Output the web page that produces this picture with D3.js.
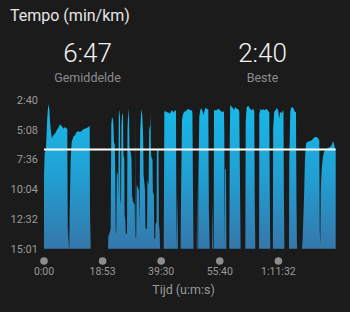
<!DOCTYPE html>
<html>
<head>
<meta charset="utf-8">
<script src="https://cdn.jsdelivr.net/npm/d3@7"></script>
<style>
body{margin:0;background:#1b1b1b;}
svg{display:block;font-family:Roboto,'Noto Sans',sans-serif;}
</style>
</head>
<body>
<div class="pace-chart-container"></div>
<script>
// samples: [afstand in meter, tempo in sec/km]
const paceSamples = [
  [0,533],[24,424],[68,399],[113,245],[147,181],[181,203],[205,269],[239,319],[273,352],
  [317,336],[375,328],[433,311],[488,299],[546,281],[570,286],[614,291],[659,303],[717,294],
  [775,303],[795,299],[809,782],[829,901],[843,787],[853,901],
  [863,901],[877,717],[911,452],[945,369],[1000,344],[1058,336],[1116,319],[1171,316],
  [1229,319],[1287,314],[1341,306],[1399,303],[1457,299],[1512,294],[1560,289],[1570,725],[1594,901],
  [2184,901],[2195,841],[2253,816],[2276,801],[2297,284],[2321,245],[2345,254],[2365,269],
  [2389,369],[2417,384],[2433,533],[2447,831],[2468,806],[2485,518],[2519,533],[2536,657],
  [2553,235],[2570,207],[2594,250],[2607,652],[2628,682],[2645,284],[2672,225],[2696,235],
  [2710,434],[2740,458],[2751,732],[2775,757],[2792,831],[2833,821],[2850,309],[2877,203],
  [2905,259],[2918,409],[2959,419],[2987,458],[3003,632],[3037,667],[3095,682],[3113,846],
  [3120,846],[3126,235],[3133,846],[3147,846],[3164,583],[3236,608],[3259,782],[3283,309],
  [3321,206],[3355,235],[3386,354],[3399,533],[3447,608],[3464,797],[3515,806],[3532,558],
  [3570,583],[3590,309],[3624,284],[3635,230],[3648,409],[3662,443],[3703,458],[3716,618],
  [3750,632],[3764,846],[3795,856],[3805,782],[3843,767],[3853,409],[3907,404],[3921,782],
  [3945,806],[3962,901],
  [4085,901],[4096,583],[4106,220],[4130,215],[4188,220],[4243,223],[4300,228],[4334,216],
  [4379,211],[4413,223],[4471,211],[4505,215],[4515,618],[4532,901],[4556,618],[4573,901],
  [4662,901],[4676,652],[4710,260],[4734,236],[4778,220],[4847,215],[4925,203],[4983,211],
  [5041,211],[5065,220],[5086,632],[5103,901],[5214,901],[5228,563],[5242,901],
  [5263,901],[5269,568],[5300,245],[5324,220],[5358,200],[5403,211],[5437,235],[5485,211],
  [5529,195],[5553,206],[5608,205],[5628,717],[5656,901],[5737,901],[5754,667],[5771,901],
  [5792,901],[5802,211],[5894,211],[5949,203],[6007,211],[6075,220],[6120,216],[6144,220],
  [6154,319],[6168,901],[6185,501],[6212,508],[6226,901],
  [6324,901],[6341,359],[6355,186],[6382,190],[6416,195],[6461,203],[6495,211],[6519,195],
  [6577,203],[6632,206],[6666,220],[6690,583],[6710,901],
  [6871,901],[6884,269],[6918,195],[6973,190],[7031,203],[7089,211],[7144,203],[7178,220],
  [7192,651],[7212,901],
  [7341,901],[7348,228],[7396,203],[7440,211],[7485,206],[7543,211],[7601,203],[7655,216],
  [7689,220],[7706,618],[7723,901],
  [7811,901],[7822,299],[7856,220],[7904,211],[7948,200],[7993,211],[8027,253],[8061,220],
  [8119,225],[8153,211],[8174,220],[8187,618],[8204,901],
  [8362,901],[8372,452],[8406,220],[8430,200],[8474,195],[8522,203],[8566,220],[8600,220],
  [8617,657],[8635,901],
  [8805,901],[8829,850],[8874,651],[8908,452],[8942,377],[8986,369],[9055,365],[9137,360],
  [9191,352],[9249,344],[9307,344],[9362,352],[9396,362],[9410,806],[9430,881],
  [9447,608],[9478,508],[9512,452],[9556,419],[9590,410],[9648,402],[9703,399],[9761,394],
  [9819,385],[9853,369],[9874,365],[9908,385],[9932,402],[9956,419]
];

const paceTicks = [160, 308, 456, 604, 752, 901];        // 2:40 ... 15:01
const distTicks = [0, 2000, 4000, 6000, 8000];           // meter
const timeLabels = ['0:00', '18:53', '39:30', '55:40', '1:11:32'];
const avgPace = 407;   // 6:47
const bestPace = 160;  // 2:40
const totalDist = 9956;

const fmtPace = s => `${Math.floor(s / 60)}:${String(s % 60).padStart(2, '0')}`;

function setupCanvas(){
    const svg_width = 350;
    const svg_height = 312;
    const plot = {left:44, right:335.7, top:100, bottom:248.7};

    const svg = d3.select('.pace-chart-container').append('svg')
        .attr('width', svg_width).attr('height', svg_height);

    svg.append('rect').attr('width', svg_width).attr('height', svg_height).attr('fill', '#1b1b1b');

    const xScale = d3.scaleLinear().domain([0, totalDist]).range([plot.left, plot.right]);
    const yScale = d3.scaleLinear().domain([bestPace, 901]).range([plot.top, plot.bottom]);

    // header
    svg.append('text').attr('x', 10).attr('y', 21).text('Tempo (min/km)')
        .style('font-size', '16px').style('fill', '#e6e6e6');

    const stats = [
        {x: 87.5, value: fmtPace(avgPace), label: 'Gemiddelde'},
        {x: 262.5, value: fmtPace(bestPace), label: 'Beste'}
    ];
    const statG = svg.selectAll('.stat').data(stats).enter().append('g').attr('class', 'stat');
    statG.append('text').attr('x', d => d.x).attr('y', 61.5).text(d => d.value)
        .style('text-anchor', 'middle').style('font-size', '26px').style('font-weight', 300)
        .style('fill', '#f2f2f2');
    statG.append('text').attr('x', d => d.x).attr('y', 81.5).text(d => d.label)
        .style('text-anchor', 'middle').style('font-size', '12.5px').style('fill', '#8c8c8c');

    // gradient
    const grad = svg.append('defs').append('linearGradient').attr('id', 'paceFill')
        .attr('gradientUnits', 'userSpaceOnUse')
        .attr('x1', 0).attr('x2', 0).attr('y1', plot.top).attr('y2', plot.bottom);
    grad.append('stop').attr('offset', '0%').attr('stop-color', '#16bbea');
    grad.append('stop').attr('offset', '50%').attr('stop-color', '#21a0d4');
    grad.append('stop').attr('offset', '100%').attr('stop-color', '#3577aa');

    const areaGen = d3.area()
        .x(d => xScale(d[0]))
        .y0(yScale(901))
        .y1(d => yScale(Math.min(d[1], 901)));

    svg.append('path').datum(paceSamples)
        .attr('d', areaGen)
        .style('fill', 'url(#paceFill)');

    // gemiddelde lijn
    svg.append('line')
        .attr('x1', xScale(0)).attr('x2', xScale(totalDist))
        .attr('y1', yScale(avgPace)).attr('y2', yScale(avgPace))
        .style('stroke', '#ffffff').style('stroke-width', 2);

    // y as
    const yAxis = d3.axisLeft(yScale).tickValues(paceTicks).tickFormat(fmtPace).tickSize(0).tickPadding(6);
    const yAxisDraw = svg.append('g').attr('class', 'y axis')
        .attr('transform', `translate(${plot.left},0)`).call(yAxis);
    yAxisDraw.select('.domain').remove();
    yAxisDraw.selectAll('text').style('font-size', '11px').style('fill', '#9a9a9a')
        .style('font-family', 'Roboto,sans-serif');

    // x as: punten + tijdlabels
    const xG = svg.append('g').attr('class', 'x axis');
    const ticks = xG.selectAll('.tick').data(distTicks).enter().append('g')
        .attr('transform', d => `translate(${xScale(d)},0)`);
    ticks.append('circle').attr('cy', 261).attr('r', 3.8).style('fill', '#8e8e8e');
    ticks.append('text').attr('y', 274.5).text((d, i) => timeLabels[i])
        .style('text-anchor', 'middle').style('font-size', '10.5px').style('fill', '#9a9a9a');

    svg.append('text').attr('x', 183.5).attr('y', 293.5).text('Tijd (u:m:s)')
        .style('text-anchor', 'middle').style('font-size', '12.5px').style('fill', '#9a9a9a');
}

setupCanvas();
</script>
</body>
</html>
